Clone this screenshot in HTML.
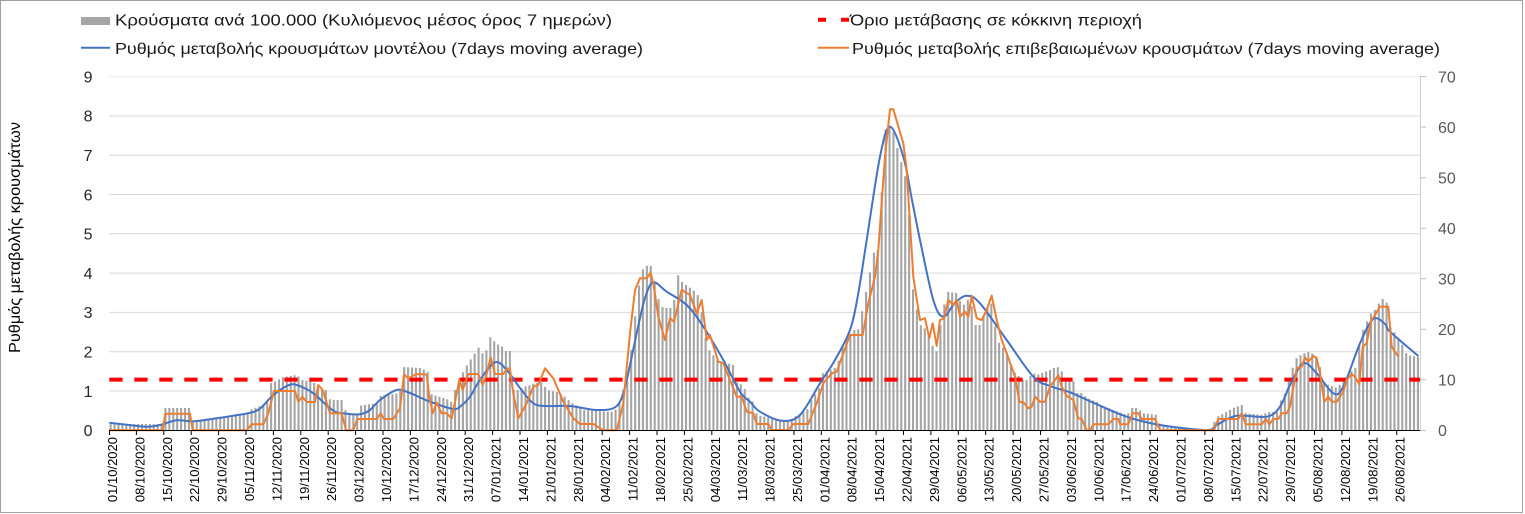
<!DOCTYPE html>
<html><head><meta charset="utf-8"><style>
html,body{margin:0;padding:0;background:#fff;}
body{width:1525px;height:514px;overflow:hidden;}
svg{display:block;font-family:"Liberation Sans","DejaVu Sans",sans-serif;}
</style></head><body>
<svg id="c" width="1525" height="514" viewBox="0 0 1525 514" xmlns="http://www.w3.org/2000/svg">
<rect x="0.5" y="0.5" width="1522" height="512" fill="#fff" stroke="#a0a0a0" stroke-width="1"/>
<g stroke="#d9d9d9" stroke-width="1">
<line x1="109" y1="391" x2="1420" y2="391"/>
<line x1="109" y1="351.7" x2="1420" y2="351.7"/>
<line x1="109" y1="312.4" x2="1420" y2="312.4"/>
<line x1="109" y1="273.1" x2="1420" y2="273.1"/>
<line x1="109" y1="233.8" x2="1420" y2="233.8"/>
<line x1="109" y1="194.5" x2="1420" y2="194.5"/>
<line x1="109" y1="155.2" x2="1420" y2="155.2"/>
<line x1="109" y1="115.9" x2="1420" y2="115.9"/>
<line x1="109" y1="76.6" x2="1420" y2="76.6" stroke="#ececec"/>
</g>
<path id="bars" fill="#a5a5a5" d=""/>
<line x1="109.3" y1="379.6" x2="1420" y2="379.6" stroke="#ff0000" stroke-width="4" stroke-dasharray="13.3 11.7"/>
<polyline id="blue" fill="none" stroke="#4472c4" stroke-width="2" stroke-linejoin="round" points="109.3,422.7 125,424.5 146.7,426.7 160,425 176.7,420.3 193.3,421.3 215,418.5 233.3,415.7 256.7,410.7 270,398.3 280,390 291.7,384.3 302,387 313.3,393.3 333.3,410.7 345,413.5 360,414.3 370,410 380,400 396.7,390 410,393 430,401.7 453.3,409 462,405 470,396.7 480,380 495,362.3 506.7,370 520,388 533.3,403.3 546.7,406 570,406 596.7,410 615,407.3 623.3,393.3 630,365 636.7,333.3 645,298 653.3,282.3 666.7,291.7 686.7,305 703.3,326.7 723.3,360 740,391.7 750,401.7 760,411.7 781.7,420.7 800,415 820,383.3 835,360 850,330 858,295 866.7,240 880,156.7 890,126.7 903.3,156.7 912,200 920,240 933.3,300 943.3,316.7 955,303 966.7,295.7 980,303.3 1006.7,340 1033.3,376.7 1050,386 1070,392.3 1093.3,402.7 1126.7,416.7 1160,425 1206.7,430 1216.7,425 1236.7,415.7 1266.7,416.7 1280,406.7 1290,385 1303.3,363.3 1316.7,373.3 1333.3,393.3 1343.3,386.7 1360,343.3 1373.3,319 1385,324 1390,331.7 1418.3,356"/>
<polyline fill="none" stroke="#ed7d31" stroke-width="2" stroke-linejoin="round" points="109,430.3 162.7,430.3 165.3,413.7 190,413.7 192.7,430.3 246.7,430.3 251.7,424.3 263.3,424.3 268.3,413.3 274,391 295,391 298.3,401.7 302.3,396.7 306.7,402 315,402 318.3,385 322.7,390 330,413.3 341.7,413.3 346,430.3 353.3,430.3 357.3,419 376.7,419 380.7,413.3 384,419 393.3,419 400,408.3 404,374.3 408.3,378.3 416,374.3 425,374.3 426.7,375 429.3,396.7 432.7,413.3 436.7,402.7 441.7,413.3 446.7,413.3 451.7,418.3 456.7,393.3 459.3,380 462.7,390 468.3,374 478.3,374 482.7,385 486.7,374 490.7,357.3 495,374 503.3,374 507.3,368.3 510,369 513.3,393.3 518.3,418.3 526.7,403.3 533.3,386.7 538.3,385 545,368.3 553.3,378.3 563.3,401.7 573.3,418.3 580,424 593.3,424 603.3,430.3 616.7,430.3 623.3,403.3 630,333.3 635,290 640,278.3 646.7,278.3 650.7,272.7 653.3,283.3 658.3,316.7 665,340 670,318.3 674,321.7 681.7,290 690,295 696.7,313.3 701.7,300 706.7,340 710,335 718.3,361.7 723.3,363.3 736.7,396.7 741.7,396.7 746.7,411.7 753.3,413.3 756.7,424 768.3,424 771.7,430 788.3,430 793.3,424 808.3,424 816.7,403.3 823.3,383.3 831.7,373.3 836.7,371.7 850,335 862.7,335 868.3,303.3 875,276.7 878.3,250 885,156.7 890,109.3 893.3,109.3 903.3,143.3 906.7,170 913.3,276.7 920,320 925,318.3 929.3,338.3 932.7,323.3 936.7,346 940,320 944,318.3 948.3,300 953.3,305 956.7,300 960,316.7 965,311.7 968.3,316.7 971.7,295.7 976.7,318.3 981.7,320 986.7,310 991.7,295.7 996.7,320 1001.7,340 1006.7,353.3 1015,376.7 1019.3,401.7 1023.3,402.3 1028.3,408.3 1031.7,406.7 1035,396.7 1040,401.7 1045,401.7 1050,386.7 1055,380 1058.3,375 1061.7,386.7 1066.7,396 1073.3,400 1078.3,418.3 1081.7,419 1086.7,430.3 1090,430.3 1093.3,424.3 1108.3,424.3 1113.3,419 1118.3,419 1120,424.3 1128.3,424.3 1132.7,413.3 1138.3,413.3 1141.7,419 1155,419 1160,430.3 1214,430.3 1218.3,419 1238.3,419 1241.7,413.3 1245.7,424.3 1261.7,424.3 1266,419 1269.3,424.3 1273.3,419 1278.3,419 1281.7,413.3 1286.7,413.3 1290,406.7 1296.7,368.3 1301.7,366.7 1305,357.3 1308.3,361.7 1313.3,356 1316.7,358.3 1320,373.3 1324.3,401.7 1328.3,396.7 1331.7,401.7 1336.7,401.7 1343.3,391.7 1346.7,380 1351.7,374 1355,376.7 1359.3,384.3 1362.7,346.7 1366.7,343.3 1370.7,321.7 1375,315 1380,306.7 1388.3,306.7 1391.7,346.7 1398.3,356.7"/>
<!-- axes -->
<line x1="109" y1="430.5" x2="1420" y2="430.5" stroke="#000" stroke-width="1"/>
<line x1="1420.5" y1="76" x2="1420.5" y2="431" stroke="#d0d0d0" stroke-width="1"/>
<path stroke="#bfbfbf" stroke-width="1" d="M1420 430.5h6M1420 379.8h6M1420 329.2h6M1420 278.7h6M1420 228.2h6M1420 177.7h6M1420 127.1h6M1420 76.6h6"/>
<path stroke="#000" stroke-width="1" d="M109.5 430v5M136.4 430v5M163.8 430v5M191.2 430v5M218.6 430v5M246 430v5M273.4 430v5M300.8 430v5M328.2 430v5M355.6 430v5M383 430v5M410.4 430v5M437.8 430v5M465.2 430v5M492.6 430v5M520 430v5M547.4 430v5M574.8 430v5M602.2 430v5M629.6 430v5M657 430v5M684.4 430v5M711.8 430v5M739.2 430v5M766.6 430v5M794 430v5M821.3 430v5M848.7 430v5M876.1 430v5M903.5 430v5M930.9 430v5M958.3 430v5M985.7 430v5M1013.1 430v5M1040.5 430v5M1067.9 430v5M1095.3 430v5M1122.7 430v5M1150.1 430v5M1177.5 430v5M1204.9 430v5M1232.3 430v5M1259.7 430v5M1287.1 430v5M1314.5 430v5M1341.9 430v5M1369.3 430v5M1396.7 430v5"/>
<!-- left axis labels -->
<g font-size="16" fill="#262626" text-anchor="end">
<text x="92.5" y="436.1">0</text>
<text x="92.5" y="396.8">1</text>
<text x="92.5" y="357.5">2</text>
<text x="92.5" y="318.2">3</text>
<text x="92.5" y="278.9">4</text>
<text x="92.5" y="239.6">5</text>
<text x="92.5" y="200.3">6</text>
<text x="92.5" y="161">7</text>
<text x="92.5" y="121.7">8</text>
<text x="92.5" y="82.4">9</text>
</g>
<!-- right axis labels -->
<g font-size="16" fill="#595959">
<text x="1438" y="436.1">0</text>
<text x="1438" y="385.6">10</text>
<text x="1438" y="335">20</text>
<text x="1438" y="284.5">30</text>
<text x="1438" y="234">40</text>
<text x="1438" y="183.5">50</text>
<text x="1438" y="132.9">60</text>
<text x="1438" y="82.4">70</text>
</g>
<!-- axis title -->
<text transform="translate(20,237.5) rotate(-90)" font-size="16" fill="#000" text-anchor="middle" textLength="231" lengthAdjust="spacingAndGlyphs">Ρυθμός μεταβολής κρουσμάτων</text>
<!-- x labels -->
<g font-size="13" fill="#000" text-anchor="end">
<text transform="translate(117,437) rotate(-90)">01/10/2020</text>
<text transform="translate(144.4,437) rotate(-90)">08/10/2020</text>
<text transform="translate(171.8,437) rotate(-90)">15/10/2020</text>
<text transform="translate(199.2,437) rotate(-90)">22/10/2020</text>
<text transform="translate(226.6,437) rotate(-90)">29/10/2020</text>
<text transform="translate(254,437) rotate(-90)">05/11/2020</text>
<text transform="translate(281.4,437) rotate(-90)">12/11/2020</text>
<text transform="translate(308.8,437) rotate(-90)">19/11/2020</text>
<text transform="translate(336.2,437) rotate(-90)">26/11/2020</text>
<text transform="translate(363.6,437) rotate(-90)">03/12/2020</text>
<text transform="translate(391,437) rotate(-90)">10/12/2020</text>
<text transform="translate(418.4,437) rotate(-90)">17/12/2020</text>
<text transform="translate(445.8,437) rotate(-90)">24/12/2020</text>
<text transform="translate(473.2,437) rotate(-90)">31/12/2020</text>
<text transform="translate(500.6,437) rotate(-90)">07/01/2021</text>
<text transform="translate(528,437) rotate(-90)">14/01/2021</text>
<text transform="translate(555.4,437) rotate(-90)">21/01/2021</text>
<text transform="translate(582.8,437) rotate(-90)">28/01/2021</text>
<text transform="translate(610.2,437) rotate(-90)">04/02/2021</text>
<text transform="translate(637.6,437) rotate(-90)">11/02/2021</text>
<text transform="translate(665,437) rotate(-90)">18/02/2021</text>
<text transform="translate(692.4,437) rotate(-90)">25/02/2021</text>
<text transform="translate(719.8,437) rotate(-90)">04/03/2021</text>
<text transform="translate(747.2,437) rotate(-90)">11/03/2021</text>
<text transform="translate(774.6,437) rotate(-90)">18/03/2021</text>
<text transform="translate(802,437) rotate(-90)">25/03/2021</text>
<text transform="translate(829.3,437) rotate(-90)">01/04/2021</text>
<text transform="translate(856.7,437) rotate(-90)">08/04/2021</text>
<text transform="translate(884.1,437) rotate(-90)">15/04/2021</text>
<text transform="translate(911.5,437) rotate(-90)">22/04/2021</text>
<text transform="translate(938.9,437) rotate(-90)">29/04/2021</text>
<text transform="translate(966.3,437) rotate(-90)">06/05/2021</text>
<text transform="translate(993.7,437) rotate(-90)">13/05/2021</text>
<text transform="translate(1021.1,437) rotate(-90)">20/05/2021</text>
<text transform="translate(1048.5,437) rotate(-90)">27/05/2021</text>
<text transform="translate(1075.9,437) rotate(-90)">03/06/2021</text>
<text transform="translate(1103.3,437) rotate(-90)">10/06/2021</text>
<text transform="translate(1130.7,437) rotate(-90)">17/06/2021</text>
<text transform="translate(1158.1,437) rotate(-90)">24/06/2021</text>
<text transform="translate(1185.5,437) rotate(-90)">01/07/2021</text>
<text transform="translate(1212.9,437) rotate(-90)">08/07/2021</text>
<text transform="translate(1240.3,437) rotate(-90)">15/07/2021</text>
<text transform="translate(1267.7,437) rotate(-90)">22/07/2021</text>
<text transform="translate(1295.1,437) rotate(-90)">29/07/2021</text>
<text transform="translate(1322.5,437) rotate(-90)">05/08/2021</text>
<text transform="translate(1349.9,437) rotate(-90)">12/08/2021</text>
<text transform="translate(1377.3,437) rotate(-90)">19/08/2021</text>
<text transform="translate(1404.7,437) rotate(-90)">26/08/2021</text>
</g>
<!-- legend -->
<rect x="81" y="17" width="29" height="8" fill="#a5a5a5"/>
<text x="115" y="25.5" font-size="16" fill="#1a1a1a" textLength="497" lengthAdjust="spacingAndGlyphs">Κρούσματα ανά 100.000 (Κυλιόμενος μέσος όρος 7 ημερών)</text>
<line x1="81" y1="47.7" x2="110" y2="47.7" stroke="#4472c4" stroke-width="2"/>
<text x="115" y="54" font-size="16" fill="#1a1a1a" textLength="528" lengthAdjust="spacingAndGlyphs">Ρυθμός μεταβολής κρουσμάτων μοντέλου (7days moving average)</text>
<path d="M818 19.8h8M841 19.8h8" stroke="#ff0000" stroke-width="4"/>
<text x="850" y="25.5" font-size="16" fill="#1a1a1a" textLength="292" lengthAdjust="spacingAndGlyphs">Όριο μετάβασης σε κόκκινη περιοχή</text>
<line x1="818" y1="47.7" x2="849" y2="47.7" stroke="#ed7d31" stroke-width="2"/>
<text x="852" y="54" font-size="16" fill="#1a1a1a" textLength="588" lengthAdjust="spacingAndGlyphs">Ρυθμός μεταβολής επιβεβαιωμένων κρουσμάτων (7days moving average)</text>
</svg>
<script>
(function(){
var K=[[109,424],[160,424],[163,424],[165,408],[190,408],[192,421],[247,413],[250,410],[267,403],[271,383],[276,381],[283,377],[297,375],[302,380],[313,382],[322,390],[327,390],[330,400],[342,400],[347,415],[357,415],[358,406],[377,403],[380,396],[400,393],[403,367],[420,368],[425,370],[428,372],[431,394],[440,397],[450,400],[452,403],[455,390],[463,372],[467,365],[475,353],[478,347],[485,357],[487,347],[491,335],[495,343],[503,347],[505,351],[510,351],[513,390],[520,390],[523,387],[530,385],[535,383],[542,382],[547,390],[557,392],[560,394],[567,398],[570,402],[580,407],[583,410],[613,412],[618,407],[623,390],[627,383],[630,360],[635,317],[638,290],[643,269],[650,263],[655,283],[658,298],[663,308],[673,308],[678,275],[682,282],[697,293],[700,302],[707,347],[717,360],[733,365],[737,383],[743,385],[748,397],[753,402],[757,415],[790,422],[792,418],[807,410],[810,402],[820,387],[823,373],[837,367],[843,343],[853,330],[858,330],[863,307],[867,287],[870,272],[873,253],[878,250],[882,187],[886,123],[893,130],[897,147],[902,165],[907,183],[910,230],[913,290],[917,310],[922,330],[927,327],[932,345],[937,352],[942,312],[948,292],[957,293],[962,307],[970,297],[975,325],[980,325],[987,307],[992,303],[997,340],[1007,353],[1012,370],[1023,380],[1027,380],[1033,373],[1037,375],[1050,370],[1053,368],[1060,367],[1065,380],[1073,380],[1077,393],[1082,393],[1087,398],[1097,402],[1100,405],[1127,415],[1132,408],[1138,408],[1142,413],[1157,415],[1160,425],[1207,430],[1210,430],[1217,417],[1230,410],[1233,408],[1242,405],[1245,413],[1263,415],[1267,412],[1277,412],[1280,402],[1287,390],[1290,373],[1293,367],[1297,357],[1307,352],[1310,352],[1317,357],[1320,367],[1323,383],[1337,388],[1342,382],[1347,377],[1352,370],[1357,367],[1360,337],[1363,330],[1370,315],[1373,310],[1377,310],[1380,299],[1383,299],[1387,303],[1390,327],[1395,333],[1400,340],[1407,355],[1420,357]];
function f(x){
 if(x<=K[0][0])return K[0][1];
 for(var i=1;i<K.length;i++){
  if(x<=K[i][0]){var a=K[i-1],b=K[i];var t=(x-a[0])/(b[0]-a[0]);return a[1]+t*(b[1]-a[1]);}
 }
 return K[K.length-1][1];
}
var d="";
for(var i=0;i<=334;i++){
 var x=109.6+i*3.914;
 var y=f(x+1);
 if(y<430){d+="M"+x.toFixed(2)+" "+y.toFixed(1)+"h2.1V430.5h-2.1Z";}
}
document.getElementById("bars").setAttribute("d",d);
// smooth the blue model line (Catmull-Rom)
var pl=document.getElementById("blue");
var P=pl.getAttribute("points").trim().split(/\s+/).map(function(s){var a=s.split(",");return [parseFloat(a[0]),parseFloat(a[1])];});
var s="M"+P[0][0]+" "+P[0][1];
for(var j=0;j<P.length-1;j++){
 var p0=P[j-1]||P[j],p1=P[j],p2=P[j+1],p3=P[j+2]||P[j+1];
 var c1x=p1[0]+(p2[0]-p0[0])/6,c1y=p1[1]+(p2[1]-p0[1])/6;
 var c2x=p2[0]-(p3[0]-p1[0])/6,c2y=p2[1]-(p3[1]-p1[1])/6;
 s+="C"+c1x.toFixed(2)+" "+c1y.toFixed(2)+" "+c2x.toFixed(2)+" "+c2y.toFixed(2)+" "+p2[0]+" "+p2[1];
}
var np=document.createElementNS("http://www.w3.org/2000/svg","path");
np.setAttribute("d",s);np.setAttribute("fill","none");np.setAttribute("stroke","#4472c4");np.setAttribute("stroke-width","2");
pl.parentNode.replaceChild(np,pl);
})();
</script>
</body></html>
